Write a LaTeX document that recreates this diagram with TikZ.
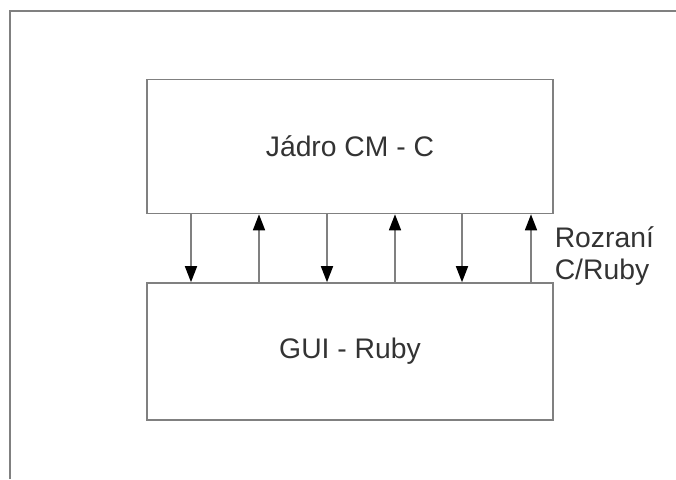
\documentclass[tikz,border=0pt]{standalone}
\usepackage{fontspec}
\setmainfont{Liberation Sans}
\usetikzlibrary{arrows.meta}
\definecolor{linegray}{HTML}{808080}
\definecolor{textgray}{HTML}{333333}

\begin{document}
\begin{tikzpicture}[x=1pt,y=-1pt,->,>={Triangle[length=16pt,width=12pt,black]},
                    line width=1.6pt,draw=linegray,
                    box/.style={rectangle,draw=linegray,inner sep=0pt,minimum width=406pt,
                                font=\fontsize{28.3}{32}\selectfont,text=textgray},
                    iface text/.style={align=left,inner sep=0pt,font=\fontsize{28.3}{32}\selectfont,text=textgray}]
  \useasboundingbox (0,0) rectangle (676,479);

  % outer frame
  \draw[-,linegray] (10,479) -- (10,11) -- (676,11);

  \node[box,minimum height=134pt] (core) at (350,146.5) {Jádro CM - C};
  \node[box,minimum height=137pt] (gui) at (350,351.5) {GUI - Ruby};

  \node[iface text,anchor=base west] (iface) at (554,279) {Rozraní\\C/Ruby};

  \foreach \x in {191,327,462} {
    \coordinate (d\x) at (\x,0);
    \draw[linegray] (core.south -| d\x) -- (gui.north -| d\x);
  }
  \foreach \x in {259,395,531} {
    \coordinate (u\x) at (\x,0);
    \draw[linegray] (gui.north -| u\x) -- (core.south -| u\x);
  }
\end{tikzpicture}
\end{document}
